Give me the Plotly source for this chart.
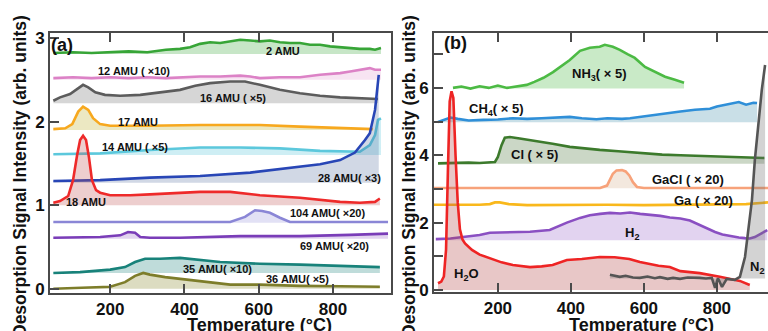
import plotly.graph_objects as go

# ---------------- panel (a): mass-resolved desorption traces ----------------
T_2amu = [47, 100, 150, 200, 250, 300, 350, 388, 415, 442, 469, 496, 523, 550, 577, 603, 630, 657, 684, 711, 738, 765, 792, 819, 846, 872, 899, 913, 929]
I_2amu = [2.82, 2.83, 2.82, 2.83, 2.84, 2.83, 2.86, 2.87, 2.89, 2.93, 2.95, 2.94, 2.96, 2.98, 2.97, 2.96, 2.97, 2.95, 2.94, 2.94, 2.92, 2.92, 2.90, 2.89, 2.88, 2.87, 2.87, 2.86, 2.88]

T_12amu = [47, 100, 150, 200, 250, 300, 350, 388, 442, 496, 550, 577, 603, 657, 711, 765, 819, 846, 872, 899, 913, 929]
I_12amu = [2.52, 2.53, 2.52, 2.53, 2.52, 2.53, 2.52, 2.53, 2.54, 2.54, 2.55, 2.54, 2.52, 2.53, 2.53, 2.56, 2.58, 2.60, 2.62, 2.64, 2.62, 2.62]

T_16amu = [47, 65, 92, 114, 127, 141, 160, 186, 227, 281, 334, 388, 429, 469, 523, 563, 603, 657, 711, 765, 819, 872, 921]
I_16amu = [2.25, 2.29, 2.33, 2.40, 2.44, 2.41, 2.35, 2.32, 2.31, 2.32, 2.35, 2.38, 2.43, 2.46, 2.48, 2.48, 2.44, 2.38, 2.34, 2.31, 2.29, 2.28, 2.27]

T_17amu = [47, 79, 98, 114, 127, 141, 154, 173, 200, 300, 442, 603, 711, 819, 907]
I_17amu = [1.91, 1.92, 1.97, 2.12, 2.18, 2.14, 2.04, 1.97, 1.95, 1.95, 1.96, 1.96, 1.94, 1.92, 1.91]

T_14amu = [47, 173, 307, 442, 550, 657, 765, 872, 899, 913, 921, 929]
I_14amu = [1.61, 1.62, 1.66, 1.69, 1.69, 1.68, 1.65, 1.64, 1.72, 1.84, 2.02, 2.04]

T_28amu = [47, 173, 307, 442, 577, 711, 765, 819, 859, 886, 899, 913, 918, 923]
I_28amu = [1.29, 1.30, 1.33, 1.35, 1.39, 1.46, 1.49, 1.54, 1.63, 1.78, 1.86, 2.14, 2.38, 2.56]

T_18amu = [47, 65, 87, 100, 111, 119, 127, 135, 143, 151, 162, 173, 200, 254, 307, 388, 442, 523, 603, 711, 819, 872, 913, 926]
I_18amu = [1.03, 1.05, 1.11, 1.30, 1.60, 1.78, 1.83, 1.78, 1.57, 1.30, 1.18, 1.15, 1.12, 1.12, 1.13, 1.15, 1.16, 1.16, 1.12, 1.09, 1.04, 1.03, 1.04, 1.08]

T_104amu = [47, 200, 400, 523, 563, 590, 609, 630, 657, 684, 800, 948]
I_104amu = [0.80, 0.80, 0.80, 0.80, 0.86, 0.94, 0.93, 0.91, 0.85, 0.80, 0.80, 0.80]

T_69amu = [47, 173, 227, 248, 267, 281, 307, 388, 550, 711, 846, 948]
I_69amu = [0.61, 0.62, 0.64, 0.68, 0.67, 0.62, 0.61, 0.61, 0.63, 0.63, 0.645, 0.66]

T_35amu = [47, 119, 200, 240, 267, 294, 334, 388, 496, 603, 711, 819, 926]
I_35amu = [0.19, 0.20, 0.23, 0.26, 0.32, 0.36, 0.36, 0.37, 0.32, 0.30, 0.29, 0.275, 0.26]

T_36amu = [47, 119, 200, 240, 267, 289, 307, 348, 388, 442, 523, 603, 711, 819, 926]
I_36amu = [0.0, 0.01, 0.025, 0.08, 0.155, 0.19, 0.17, 0.14, 0.12, 0.095, 0.05, 0.05, 0.035, 0.03, 0.025]

# ---------------- panel (b): species-resolved desorption traces ----------------
T_nh3 = [77, 100, 125, 150, 175, 200, 225, 250, 279, 300, 325, 351, 375, 397, 425, 452, 479, 493, 515, 534, 555, 575, 603, 630, 658, 685, 710]
I_nh3 = [6.00, 6.04, 5.98, 6.05, 6.00, 6.07, 6.00, 6.05, 6.09, 6.18, 6.30, 6.47, 6.65, 6.83, 7.10, 7.19, 7.22, 7.28, 7.22, 7.13, 7.00, 6.89, 6.62, 6.47, 6.33, 6.24, 6.15]

T_ch4 = [36, 55, 70, 90, 120, 160, 200, 241, 280, 320, 360, 397, 430, 470, 500, 540, 562, 589, 620, 660, 700, 740, 781, 800, 830, 860, 880, 900, 910]
I_ch4 = [4.99, 5.06, 5.12, 5.08, 5.03, 5.05, 5.06, 5.10, 5.08, 5.10, 5.12, 5.14, 5.10, 5.07, 5.10, 5.08, 5.10, 5.14, 5.20, 5.26, 5.30, 5.35, 5.38, 5.45, 5.52, 5.58, 5.50, 5.56, 5.55]

T_cl = [36, 60, 90, 120, 150, 175, 192, 200, 210, 219, 233, 260, 290, 315, 350, 397, 440, 479, 530, 589, 650, 700, 753, 800, 860, 930]
I_cl = [3.76, 3.77, 3.76, 3.78, 3.77, 3.79, 3.80, 3.95, 4.30, 4.52, 4.54, 4.50, 4.44, 4.40, 4.34, 4.25, 4.20, 4.16, 4.12, 4.07, 4.02, 4.00, 3.98, 3.95, 3.93, 3.92]

T_gacl = [25, 100, 200, 300, 400, 480, 499, 508, 515, 525, 540, 550, 560, 570, 581, 600, 700, 800, 940]
I_gacl = [3.03, 3.03, 3.03, 3.03, 3.03, 3.03, 3.10, 3.30, 3.45, 3.55, 3.56, 3.52, 3.40, 3.20, 3.06, 3.03, 3.03, 3.03, 3.03]

T_ga = [25, 100, 150, 178, 192, 205, 230, 280, 350, 400, 500, 600, 700, 800, 880, 940]
I_ga = [2.53, 2.52, 2.53, 2.55, 2.60, 2.60, 2.55, 2.52, 2.53, 2.52, 2.53, 2.52, 2.53, 2.53, 2.55, 2.60]

T_h2 = [30, 70, 110, 150, 178, 230, 288, 342, 389, 425, 452, 480, 507, 535, 562, 590, 616, 645, 671, 700, 726, 753, 775, 795, 815, 836, 860, 877, 890, 904, 920, 938]
I_h2 = [1.51, 1.53, 1.58, 1.63, 1.70, 1.72, 1.73, 1.78, 2.00, 2.14, 2.22, 2.26, 2.29, 2.27, 2.30, 2.26, 2.24, 2.20, 2.15, 2.12, 2.06, 1.93, 1.82, 1.72, 1.65, 1.60, 1.56, 1.54, 1.53, 1.57, 1.66, 1.78]

T_h2o = [36, 45, 52, 58, 63, 68, 73, 78, 84, 90, 96, 103, 110, 129, 150, 178, 210, 241, 270, 288, 320, 350, 389, 430, 479, 520, 560, 589, 640, 671, 700, 753, 808, 863, 890]
I_h2o = [0.20, 0.25, 0.40, 1.20, 3.50, 5.60, 5.90, 5.70, 4.00, 2.60, 1.80, 1.50, 1.38, 1.19, 1.05, 0.95, 0.82, 0.74, 0.70, 0.68, 0.70, 0.74, 0.89, 0.92, 0.98, 0.97, 0.92, 0.83, 0.72, 0.68, 0.56, 0.50, 0.39, 0.27, 0.15]

T_n2 = [507, 520, 534, 550, 570, 589, 610, 630, 644, 665, 680, 699, 720, 753, 770, 786, 795, 803, 814, 827, 849, 863, 877, 885, 896, 904, 912, 923, 932]
I_n2 = [0.45, 0.43, 0.39, 0.42, 0.37, 0.36, 0.40, 0.35, 0.38, 0.33, 0.36, 0.33, 0.37, 0.36, 0.34, 0.36, 0.06, 0.35, 0.09, 0.33, 0.30, 0.39, 0.98, 1.69, 2.67, 3.86, 4.84, 5.94, 6.68]

TICKS_T = [200, 400, 600, 800]

# (x, y, base, line colour, fill colour or None, axis suffix)
series = [
    (T_2amu, I_2amu, 2.81, "#37a537", "rgba(55,165,55,0.28)", ""),
    (T_12amu, I_12amu, 2.50, "#dc82c6", "rgba(220,130,198,0.22)", ""),
    (T_16amu, I_16amu, 2.22, "#5c5c5c", "rgba(92,92,92,0.25)", ""),
    (T_17amu, I_17amu, 1.90, "#f7a81e", "rgba(200,190,80,0.35)", ""),
    (T_14amu, I_14amu, 1.60, "#5cc8dc", "rgba(92,200,220,0.30)", ""),
    (T_28amu, I_28amu, 1.27, "#2846b6", "rgba(70,100,150,0.25)", ""),
    (T_18amu, I_18amu, 1.00, "#ee2a2a", "rgba(190,80,80,0.28)", ""),
    (T_104amu, I_104amu, 0.79, "#8a86d6", "rgba(138,134,214,0.25)", ""),
    (T_69amu, I_69amu, 0.60, "#7a3db8", "rgba(122,61,184,0.22)", ""),
    (T_35amu, I_35amu, 0.19, "#18827a", "rgba(24,130,122,0.28)", ""),
    (T_36amu, I_36amu, 0.00, "#7d7d2a", "rgba(140,140,50,0.30)", ""),
    (T_nh3, I_nh3, 5.98, "#4cba44", "rgba(76,186,68,0.30)", "2"),
    (T_ch4, I_ch4, 4.98, "#2f8fd8", "rgba(60,140,170,0.28)", "2"),
    (T_cl, I_cl, 3.75, "#3c7a2c", "rgba(70,110,50,0.28)", "2"),
    (T_gacl, I_gacl, 3.02, "#f7a27a", "rgba(220,190,160,0.35)", "2"),
    (T_ga, I_ga, 2.50, "#f9b81c", None, "2"),
    (T_h2, I_h2, 1.48, "#8a4fc2", "rgba(138,79,194,0.25)", "2"),
    (T_h2o, I_h2o, 0.00, "#ee2424", "rgba(180,70,70,0.30)", "2"),
    (T_n2, I_n2, 0.34, "#555555", "rgba(110,110,110,0.30)", "2"),
]

fig = go.Figure()
for xs, ys, base, lc, fc, ax in series:
    xa, ya = "x" + ax, "y" + ax
    if fc is not None:
        fig.add_trace(go.Scatter(x=[xs[0], xs[-1]], y=[base, base], mode="lines",
                                 line=dict(width=0, color=fc), xaxis=xa, yaxis=ya,
                                 hoverinfo="skip", showlegend=False))
        fig.add_trace(go.Scatter(x=xs, y=ys, mode="lines", fill="tonexty", fillcolor=fc,
                                 line=dict(color=lc, width=2.6), xaxis=xa, yaxis=ya,
                                 showlegend=False))
    else:
        fig.add_trace(go.Scatter(x=xs, y=ys, mode="lines",
                                 line=dict(color=lc, width=2.6), xaxis=xa, yaxis=ya,
                                 showlegend=False))

W, H = 768, 331
FONT = "Liberation Sans"
tickfont = dict(family=FONT, size=17, color="#111", weight="bold")
axis_common = dict(showgrid=False, zeroline=False, showline=True, linecolor="#4a4a4a",
                   linewidth=2, ticks="inside", ticklen=9, tickwidth=2, tickcolor="#4a4a4a",
                   tickfont=tickfont, automargin=False)

fig.update_layout(
    width=W, height=H, margin=dict(l=0, r=0, t=0, b=0),
    paper_bgcolor="white", plot_bgcolor="white", showlegend=False,
    xaxis=dict(domain=[50 / W, 391 / W], range=[38, 956], tickvals=TICKS_T,
               mirror="ticks", anchor="y", **axis_common),
    yaxis=dict(domain=[1 - 293 / H, 1 - 33 / H], range=[-0.05, 3.06], tickvals=[0, 1, 2, 3],
               mirror=True, anchor="x", **axis_common),
    xaxis2=dict(domain=[434 / W, 1.0], range=[25, 940], tickvals=TICKS_T,
                mirror="ticks", anchor="y2", **axis_common),
    yaxis2=dict(domain=[1 - 292 / H, 1 - 33 / H], range=[-0.06, 7.63],
                tickvals=[0, 1, 2, 3, 4, 5, 6, 7],
                ticktext=["0", "", "2", "", "4", "", "6", ""],
                mirror=False, anchor="x2", **axis_common),
)

lab = dict(family=FONT, size=11, color="#111", weight="bold")
lab_b = dict(family=FONT, size=13, color="#111", weight="bold")
panel_font = dict(family=FONT, size=18, color="#111", weight="bold")

# curve labels, panel (a)
labels_a = [
    ("2 AMU", 665, 2.84), ("12 AMU ( ×10)", 264, 2.61), ("16 AMU ( ×5)", 531, 2.28),
    ("17 AMU", 275, 2.00), ("14 AMU ( ×5)", 267, 1.70), ("28 AMU( ×3)", 845, 1.33),
    ("18 AMU", 135, 1.04), ("104 AMU( ×20)", 786, 0.91), ("69 AMU( ×20)", 803, 0.51),
    ("35 AMU( ×10)", 490, 0.24), ("36 AMU( ×5)", 703, 0.12),
]
for t, x, y in labels_a:
    fig.add_annotation(text=t, x=x, y=y, xref="x", yref="y", showarrow=False, font=lab)

# curve labels, panel (b)
labels_b = [
    ("NH<sub>3</sub>( × 5)", 479, 6.39), ("CH<sub>4</sub>( × 5)", 197, 5.35),
    ("Cl ( × 5)", 299, 4.01), ("GaCl ( × 20)", 721, 3.27), ("Ga ( × 20)", 762, 2.67),
    ("H<sub>2</sub>", 567, 1.69), ("H<sub>2</sub>O", 115, 0.45), ("N<sub>2</sub>", 910, 0.68),
]
for t, x, y in labels_b:
    fig.add_annotation(text=t, x=x, y=y, xref="x2", yref="y2", showarrow=False, font=lab_b)

fig.add_annotation(text="(a)", x=71, y=2.92, xref="x", yref="y", showarrow=False, font=panel_font)
fig.add_annotation(text="(b)", x=84, y=7.34, xref="x2", yref="y2", showarrow=False, font=panel_font)

# axis titles
title_font = dict(family=FONT, size=18, color="#111", weight="bold")
ytitle_font = dict(family=FONT, size=17.5, color="#111", weight="bold")
ytitle = "Desorption Signal Intensity (arb. units)"
for xp in (20, 409):
    fig.add_annotation(text=ytitle, x=xp / W, y=1 - 176 / H, xref="paper", yref="paper",
                       textangle=-90, showarrow=False, font=ytitle_font,
                       xanchor="center", yanchor="middle")
for xp in (259, 641):
    fig.add_annotation(text="Temperature (°C)", x=xp / W, y=1 - 325 / H, xref="paper",
                       yref="paper", showarrow=False, font=title_font,
                       xanchor="center", yanchor="middle")

fig.write_html("out.html")
